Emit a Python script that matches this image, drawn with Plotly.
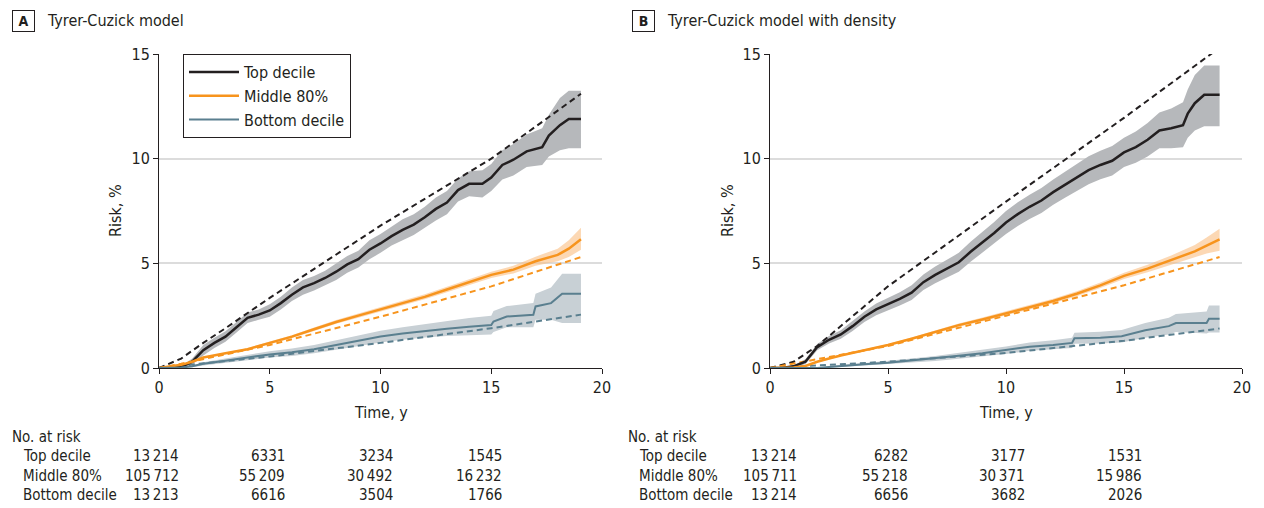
import plotly.graph_objects as go

PAGE_W, PAGE_H = 1264, 508
OFF = 8  # default body margin of the html page
W, H = PAGE_W - OFF, PAGE_H - OFF
FONT = "DejaVu Sans Condensed, DejaVu Sans, sans-serif"
DARK = "#231f20"
C_TOP, C_MID, C_BOT = "#231f20", "#f7941d", "#5a7f8f"
F_TOP, F_MID, F_BOT = "#b6b8bb", "rgba(250,190,130,0.6)", "#c8d0d5"

group_names = ["Top decile", "Middle 80%", "Bottom decile"]
panel_titles = ["Tyrer-Cuzick model", "Tyrer-Cuzick model with density"]
x_ticks = [0, 5, 10, 15, 20]
y_ticks = [0, 5, 10, 15]

# ---------------- Panel A ----------------
A_top_t = [0, 1, 1.5, 2, 2.5, 3, 3.5, 4, 4.5, 5, 5.5, 6, 6.5, 7, 7.5, 8, 8.5, 9, 9.5, 10,
           10.5, 11, 11.5, 12, 12.5, 13, 13.5, 14, 14.6, 15, 15.5, 16, 16.6, 17.3, 17.6, 18.1, 18.5, 19.05]
A_top = [0, 0.05, 0.3, 0.85, 1.2, 1.5, 1.95, 2.4, 2.55, 2.75, 3.1, 3.5, 3.85, 4.05, 4.3, 4.6, 4.95, 5.2, 5.65, 5.95,
         6.3, 6.6, 6.85, 7.2, 7.6, 7.9, 8.5, 8.8, 8.8, 9.1, 9.7, 9.95, 10.35, 10.55, 11.1, 11.6, 11.9, 11.9]
A_top_lo = [0, 0, 0.15, 0.6, 0.95, 1.25, 1.7, 2.15, 2.3, 2.45, 2.8, 3.2, 3.5, 3.7, 3.95, 4.2, 4.55, 4.8, 5.2, 5.5,
            5.85, 6.1, 6.35, 6.7, 7.05, 7.35, 7.95, 8.2, 8.15, 8.45, 9.0, 9.2, 9.6, 9.7, 10.1, 10.4, 10.5, 10.5]
A_top_hi = [0, 0.1, 0.45, 1.1, 1.45, 1.75, 2.2, 2.65, 2.8, 3.05, 3.4, 3.85, 4.2, 4.4, 4.65, 5.0, 5.35, 5.6, 6.1, 6.4,
            6.75, 7.1, 7.35, 7.7, 8.15, 8.45, 9.05, 9.4, 9.45, 9.75, 10.4, 10.7, 11.15, 11.45, 12.1, 12.9, 13.25, 13.25]
A_top_exp_t = [0, 1, 2, 3, 5, 10, 15, 19.05]
A_top_exp = [0, 0.45, 1.2, 1.9, 3.35, 6.8, 10.0, 13.1]

A_mid_t = [0, 1, 1.5, 2, 3, 4, 5, 6, 7, 8, 9, 10, 11, 12, 13, 14, 15, 16, 17, 18, 18.5, 19.05]
A_mid = [0, 0.15, 0.3, 0.5, 0.7, 0.9, 1.2, 1.5, 1.85, 2.2, 2.5, 2.8, 3.1, 3.4, 3.75, 4.1, 4.45, 4.7, 5.1, 5.4, 5.7, 6.15]
A_mid_lo = [0, 0.13, 0.27, 0.46, 0.66, 0.85, 1.14, 1.43, 1.77, 2.11, 2.4, 2.7, 2.99, 3.28, 3.62, 3.96, 4.3, 4.52, 4.88, 5.1, 5.3, 5.65]
A_mid_hi = [0, 0.17, 0.33, 0.54, 0.74, 0.95, 1.26, 1.57, 1.93, 2.29, 2.6, 2.9, 3.21, 3.52, 3.88, 4.24, 4.6, 4.88, 5.32, 5.7, 6.1, 6.7]
A_mid_exp_t = [0, 1, 5, 10, 15, 19.05]
A_mid_exp = [0, 0.2, 1.1, 2.45, 3.9, 5.3]

A_bot_t = [0, 1, 1.5, 2, 3, 4, 5, 6, 7, 8, 9, 10, 11, 12, 13, 14, 15, 15.1, 15.7, 16.9, 17.0, 17.7, 18.2, 19.05]
A_bot = [0, 0.02, 0.08, 0.2, 0.35, 0.5, 0.65, 0.75, 0.9, 1.1, 1.3, 1.5, 1.65, 1.78, 1.88, 1.97, 2.05, 2.22, 2.46, 2.54,
         2.94, 3.1, 3.55, 3.55]
A_bot_lo = [0, 0, 0.03, 0.12, 0.25, 0.37, 0.5, 0.57, 0.7, 0.87, 1.05, 1.22, 1.35, 1.46, 1.53, 1.58, 1.6, 1.72, 1.95, 1.95,
            2.3, 2.3, 2.15, 2.15]
A_bot_hi = [0, 0.04, 0.13, 0.28, 0.45, 0.63, 0.8, 0.93, 1.1, 1.33, 1.55, 1.78, 1.95, 2.1, 2.25, 2.39, 2.5, 2.72, 2.96, 3.1,
            3.55, 3.85, 4.5, 4.5]
A_bot_exp_t = [0, 5, 10, 15, 19.05]
A_bot_exp = [0, 0.55, 1.2, 1.9, 2.55]

A_risk_top = ["13\u2009214", "6331", "3234", "1545"]
A_risk_mid = ["105\u2009712", "55\u2009209", "30\u2009492", "16\u2009232"]
A_risk_bot = ["13\u2009213", "6616", "3504", "1766"]

# ---------------- Panel B ----------------
B_top_t = [0, 0.5, 1, 1.5, 2, 2.5, 3, 3.5, 4, 4.5, 5, 5.5, 6, 6.5, 7, 7.5, 8, 8.5, 9, 9.5, 10,
           10.5, 11, 11.5, 12, 12.5, 13, 13.5, 14, 14.5, 15, 15.5, 16, 16.5, 17, 17.5, 17.7, 18, 18.4, 19.05]
B_top = [0, 0, 0.08, 0.3, 1.0, 1.35, 1.6, 2.0, 2.45, 2.8, 3.05, 3.3, 3.6, 4.1, 4.45, 4.75, 5.05, 5.55, 6.0, 6.45, 6.95,
         7.35, 7.7, 8.0, 8.4, 8.75, 9.1, 9.45, 9.7, 9.9, 10.3, 10.55, 10.9, 11.35, 11.45, 11.6, 12.15, 12.65, 13.05, 13.05]
B_top_lo = [0, 0, 0.03, 0.18, 0.85, 1.17, 1.4, 1.77, 2.2, 2.52, 2.75, 2.98, 3.25, 3.73, 4.05, 4.33, 4.6, 5.07, 5.5, 5.93, 6.4,
            6.78, 7.12, 7.4, 7.8, 8.13, 8.45, 8.78, 9.02, 9.2, 9.6, 9.8, 10.1, 10.5, 10.5, 10.55, 11.0, 11.35, 11.55, 11.55]
B_top_hi = [0, 0.02, 0.13, 0.42, 1.15, 1.53, 1.8, 2.23, 2.7, 3.08, 3.35, 3.62, 3.95, 4.47, 4.85, 5.17, 5.5, 6.03, 6.5, 6.97, 7.5,
            7.92, 8.28, 8.6, 9.0, 9.37, 9.75, 10.12, 10.38, 10.6, 11.0, 11.3, 11.7, 12.2, 12.4, 12.7, 13.3, 14.0, 14.45, 14.45]
B_top_exp_t = [0, 1, 2, 5, 10, 15, 19.05]
B_top_exp = [0, 0.3, 1.05, 3.9, 7.95, 11.95, 15.3]

B_mid_t = [0, 1, 1.5, 2, 2.5, 3, 4, 5, 6, 7, 8, 9, 10, 11, 12, 13, 14, 15, 16, 17, 18, 18.5, 19.05]
B_mid = [0, 0.02, 0.1, 0.3, 0.45, 0.6, 0.85, 1.1, 1.4, 1.72, 2.05, 2.32, 2.6, 2.9, 3.2, 3.55, 3.95, 4.4, 4.75, 5.15, 5.57, 5.85, 6.15]
B_mid_lo = [0, 0.02, 0.08, 0.27, 0.41, 0.56, 0.8, 1.05, 1.34, 1.65, 1.97, 2.23, 2.5, 2.8, 3.09, 3.43, 3.82, 4.25, 4.57, 4.93, 5.27, 5.47, 5.6]
B_mid_hi = [0, 0.02, 0.12, 0.33, 0.49, 0.64, 0.9, 1.15, 1.46, 1.79, 2.13, 2.41, 2.7, 3.0, 3.31, 3.67, 4.08, 4.55, 4.93, 5.37, 5.87, 6.23, 6.65]
B_mid_exp_t = [0, 5, 10, 15, 19.05]
B_mid_exp = [0, 1.05, 2.5, 3.95, 5.3]

B_bot_t = [0, 2, 2.5, 3, 4, 5, 6, 7, 8, 9, 10, 11, 12, 12.8, 12.9, 14, 14.9, 15.9, 16.9, 17.2, 18.5, 18.6, 19.05]
B_bot = [0, 0, 0.05, 0.1, 0.18, 0.25, 0.35, 0.45, 0.58, 0.7, 0.85, 1.02, 1.1, 1.2, 1.42, 1.45, 1.52, 1.8, 2.0, 2.15,
         2.15, 2.35, 2.35]
B_bot_lo = [0, 0, 0.02, 0.05, 0.12, 0.17, 0.25, 0.33, 0.44, 0.54, 0.67, 0.82, 0.88, 0.95, 1.16, 1.17, 1.22, 1.45, 1.6, 1.72,
            1.65, 1.7, 1.7]
B_bot_hi = [0, 0, 0.08, 0.15, 0.24, 0.33, 0.45, 0.57, 0.72, 0.86, 1.03, 1.22, 1.32, 1.45, 1.68, 1.73, 1.82, 2.15, 2.4, 2.58,
            2.7, 2.99, 2.99]
B_bot_exp_t = [0, 5, 10, 15, 19.05]
B_bot_exp = [0, 0.3, 0.72, 1.3, 1.89]

B_risk_top = ["13\u2009214", "6282", "3177", "1531"]
B_risk_mid = ["105\u2009711", "55\u2009218", "30\u2009371", "15\u2009986"]
B_risk_bot = ["13\u2009214", "6656", "3682", "2026"]

# ---------------- layout geometry (page pixels) ----------------
AX_A = (159, 602)
AX_B = (770, 1242)
AX_Y = (54, 368)   # top (15), bottom (0)
RISK_COLS_A = [181, 287, 395, 504]
RISK_COLS_B = [799, 910, 1027, 1144]


def px(x):
    return (x - OFF) / W


def py(y):
    return 1 - (y - OFF) / H


fig = go.Figure()

panels = [
    dict(xa="x", ya="y",
         groups=[(A_top_t, A_top, A_top_lo, A_top_hi, A_top_exp_t, A_top_exp, C_TOP, F_TOP, 2.5),
                 (A_mid_t, A_mid, A_mid_lo, A_mid_hi, A_mid_exp_t, A_mid_exp, C_MID, F_MID, 2.5),
                 (A_bot_t, A_bot, A_bot_lo, A_bot_hi, A_bot_exp_t, A_bot_exp, C_BOT, F_BOT, 2.0)]),
    dict(xa="x2", ya="y2",
         groups=[(B_top_t, B_top, B_top_lo, B_top_hi, B_top_exp_t, B_top_exp, C_TOP, F_TOP, 2.5),
                 (B_mid_t, B_mid, B_mid_lo, B_mid_hi, B_mid_exp_t, B_mid_exp, C_MID, F_MID, 2.5),
                 (B_bot_t, B_bot, B_bot_lo, B_bot_hi, B_bot_exp_t, B_bot_exp, C_BOT, F_BOT, 2.0)]),
]

for pi, p in enumerate(panels):
    # confidence bands
    for (t, v, lo, hi, et, ev, lc, fc, lw) in p["groups"]:
        fig.add_trace(go.Scatter(x=t, y=lo, mode="lines", line=dict(width=0),
                                 xaxis=p["xa"], yaxis=p["ya"], showlegend=False, hoverinfo="skip"))
        fig.add_trace(go.Scatter(x=t, y=hi, mode="lines", line=dict(width=0), fill="tonexty",
                                 fillcolor=fc, xaxis=p["xa"], yaxis=p["ya"], showlegend=False, hoverinfo="skip"))
    # expected (dashed)
    for (t, v, lo, hi, et, ev, lc, fc, lw) in p["groups"]:
        fig.add_trace(go.Scatter(x=et, y=ev, mode="lines", line=dict(color=lc, width=2, dash="6px,4px"),
                                 xaxis=p["xa"], yaxis=p["ya"], showlegend=False, cliponaxis=False,
                                 hoverinfo="skip"))
    # observed (solid)
    for gi, (t, v, lo, hi, et, ev, lc, fc, lw) in enumerate(p["groups"]):
        fig.add_trace(go.Scatter(x=t, y=v, mode="lines", line=dict(color=lc, width=lw),
                                 xaxis=p["xa"], yaxis=p["ya"], name=group_names[gi],
                                 showlegend=(pi == 0)))

axis_common = dict(showline=True, linecolor=DARK, linewidth=1, ticks="outside", ticklen=5,
                   tickcolor=DARK, tickwidth=1, tickfont=dict(family=FONT, size=16, color=DARK),
                   zeroline=False, automargin=False)
fig.update_layout(
    template="none",
    xaxis=dict(domain=[px(AX_A[0]), px(AX_A[1])], range=[0, 20], tickvals=x_ticks, showgrid=False,
               anchor="y", **axis_common),
    yaxis=dict(domain=[py(AX_Y[1]), py(AX_Y[0])], range=[0, 15], tickvals=y_ticks, showgrid=True,
               gridcolor="#dcdcdc", gridwidth=1.5, anchor="x", **axis_common),
    xaxis2=dict(domain=[px(AX_B[0]), px(AX_B[1])], range=[0, 20], tickvals=x_ticks, showgrid=False,
                anchor="y2", **axis_common),
    yaxis2=dict(domain=[py(AX_Y[1]), py(AX_Y[0])], range=[0, 15], tickvals=y_ticks, showgrid=True,
                gridcolor="#dcdcdc", gridwidth=1.5, anchor="x2", **axis_common),
)

annotations = []


def text(x, y, s, anchor="center", size=15, **kw):
    annotations.append(dict(x=px(x), y=py(y), xref="paper", yref="paper", text=s, showarrow=False,
                            xanchor=anchor, yanchor="middle",
                            font=dict(family=FONT, size=size, color=DARK), **kw))


for letter, bx, title, tx in [("A", 23.5, panel_titles[0], 45), ("B", 643.5, panel_titles[1], 665)]:
    annotations.append(dict(x=px(bx), y=py(20.5), xref="paper", yref="paper", text="<b>" + letter + "</b>",
                            showarrow=False, xanchor="center", yanchor="middle",
                            font=dict(family=FONT, size=14, color=DARK), bordercolor=DARK, borderwidth=1,
                            borderpad=2, width=17, height=16))
    text(tx, 20.5, title, anchor="left", size=16)

for ax0, ax1, ylab_x, cols, rows, lab_x in [
        (AX_A[0], AX_A[1], 115, RISK_COLS_A, [A_risk_top, A_risk_mid, A_risk_bot], 10),
        (AX_B[0], AX_B[1], 727, RISK_COLS_B, [B_risk_top, B_risk_mid, B_risk_bot], 626)]:
    text((ax0 + ax1) / 2, 412, "Time, y", size=16)
    annotations.append(dict(x=px(ylab_x), y=py((AX_Y[0] + AX_Y[1]) / 2), xref="paper", yref="paper",
                            text="Risk, %", showarrow=False, textangle=-90, xanchor="center",
                            yanchor="middle", font=dict(family=FONT, size=16, color=DARK)))
    text(lab_x, 437, "No. at risk", anchor="left")
    for ri, (name, vals) in enumerate(zip(group_names, rows)):
        yy = 456 + ri * 19.5
        text(lab_x + 11, yy, name, anchor="left")
        for cx, s in zip(cols, vals):
            text(cx, yy, s, anchor="right")

fig.update_layout(
    width=W, height=H, margin=dict(l=0, r=0, t=0, b=0, pad=0),
    paper_bgcolor="white", plot_bgcolor="white",
    font=dict(family=FONT, size=15, color=DARK),
    annotations=annotations,
    showlegend=True,
    legend=dict(x=px(183), y=py(54), xanchor="left", yanchor="top", bgcolor="white",
                bordercolor=DARK, borderwidth=1, font=dict(family=FONT, size=16, color=DARK),
                tracegroupgap=0, itemwidth=50, traceorder="normal"),
)

fig.write_html("out.html")
